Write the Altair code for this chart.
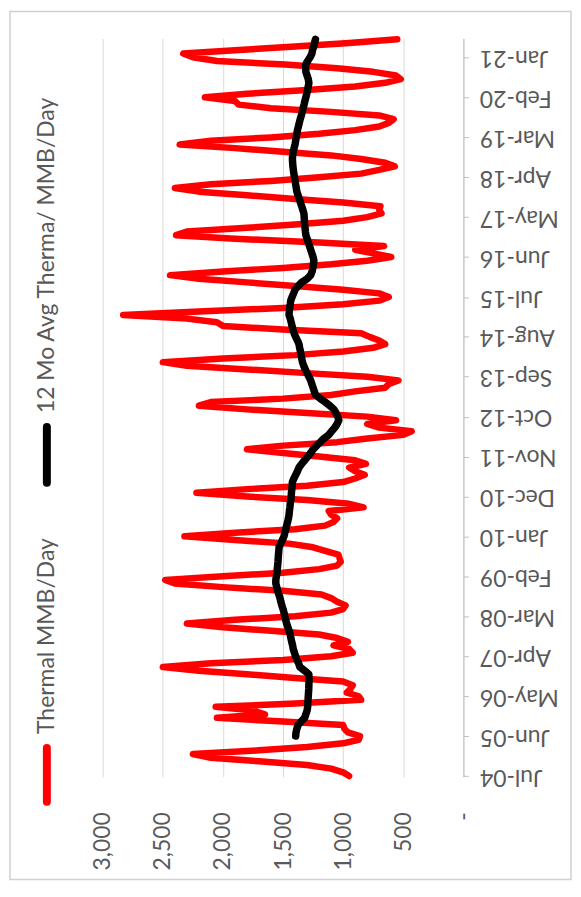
import altair as alt
import pandas as pd

# Monthly values (Jul-04 .. Jun-21)
thermal = [
    950, 1000, 1100, 1300, 1700, 2100, 2250, 1700, 1300, 1000,
    870, 860, 960, 990, 1000, 1500, 2050, 1650, 1750, 2060,
    1400, 850, 870, 970, 940, 920, 1000, 1400, 1800, 2200,
    2500, 2100, 1500, 1100, 920, 950, 1080, 960, 1050, 1200,
    1600, 2000, 2300, 1900, 1400, 1100, 1000, 980, 1050, 1100,
    1180, 1500, 2000, 2400, 2480, 2000, 1500, 1200, 1050, 1020,
    1030, 1040, 1150, 1250, 1450, 1900, 2320, 1900, 1400, 1150,
    1080, 1050, 1100, 1120, 830, 950, 1300, 1800, 2220, 1800,
    1300, 1000, 900, 820, 900, 950, 810, 900, 1200, 1500,
    1800, 1500, 1050, 800, 500, 430, 700, 800, 560, 800,
    1300, 1800, 2200, 2100, 1500, 1100, 900, 650, 620, 540,
    800, 1300, 1800, 2300, 2500, 2000, 1400, 1000, 750, 650,
    700, 780, 850, 1500, 2000, 2050, 2300, 2830, 2200, 1500,
    1000, 700, 620, 700, 1000, 1400, 1800, 2200, 2440, 2000,
    1500, 1100, 800, 600, 750, 900, 660, 1200, 1900, 2390,
    2300, 1800, 1400, 1000, 800, 680, 700, 690, 1000, 1400,
    1800, 2200, 2400, 2100, 1600, 1200, 850, 700, 570, 650,
    850, 1100, 1500, 1900, 2360, 2100, 1600, 1200, 900, 700,
    620, 580, 700, 1100, 1600, 1870, 1900, 2150, 1800, 1300,
    900, 650, 520, 560, 750, 1050, 1480, 2050, 2250, 2330,
    1900, 1400, 950, 550,
]

# 12-month average, starting Jun-05
avg12 = [
    1395, 1392, 1385, 1375, 1350, 1320, 1310, 1300, 1295, 1295,
    1292, 1290, 1288, 1286, 1285, 1284, 1284, 1285, 1320, 1360,
    1370, 1385, 1395, 1405, 1415, 1420, 1428, 1435, 1440, 1450,
    1460, 1470, 1478, 1485, 1492, 1500, 1510, 1518, 1525, 1535,
    1545, 1552, 1560, 1560, 1555, 1550, 1548, 1545, 1542, 1540,
    1538, 1535, 1533, 1520, 1505, 1492, 1485, 1478, 1470, 1462,
    1455, 1450, 1447, 1443, 1440, 1436, 1432, 1430, 1427, 1424,
    1422, 1410, 1395, 1380, 1367, 1345, 1320, 1295, 1270, 1250,
    1220, 1190, 1160, 1120, 1095, 1070, 1050, 1036, 1045, 1060,
    1077, 1110, 1150, 1190, 1229, 1240, 1250, 1260, 1270, 1285,
    1300, 1315, 1328, 1338, 1345, 1350, 1355, 1362, 1367, 1380,
    1395, 1408, 1418, 1425, 1432, 1440, 1450, 1448, 1445, 1440,
    1436, 1425, 1412, 1400, 1375, 1345, 1300, 1270, 1258, 1252,
    1248, 1243, 1250, 1260, 1270, 1280, 1290, 1300, 1310, 1314,
    1317, 1320, 1322, 1324, 1326, 1335, 1345, 1355, 1365, 1375,
    1385, 1390, 1395, 1400, 1405, 1410, 1414, 1418, 1420, 1422,
    1420, 1415, 1408, 1400, 1395, 1390, 1385, 1380, 1372, 1365,
    1357, 1348, 1340, 1333, 1325, 1318, 1310, 1303, 1296, 1290,
    1285, 1290, 1300, 1310, 1312, 1312, 1295, 1275, 1260, 1255,
    1245, 1238, 1230,
]

tick_labels = ["Jul-04", "Jun-05", "May-06", "Apr-07", "Mar-08", "Feb-09", "Jan-10",
               "Dec-10", "Nov-11", "Oct-12", "Sep-13", "Aug-14", "Jul-15", "Jun-16",
               "May-17", "Apr-18", "Mar-19", "Feb-20", "Jan-21"]
value_ticks = [0, 500, 1000, 1500, 2000, 2500, 3000]
series_names = ["Thermal MMB/Day", "12 Mo Avg Therma/ MMB/Day"]
series_colors = ["#FF0000", "#000000"]

months = pd.date_range("2004-07-01", periods=len(thermal), freq="MS")
df_red = pd.DataFrame({"date": months.strftime("%Y-%m-%d"), "idx": range(len(thermal)), "v": thermal})
off = len(thermal) - len(avg12)
df_blk = pd.DataFrame({"date": months[off:].strftime("%Y-%m-%d"), "idx": range(off, len(thermal)), "v": avg12})

def dt(ts):
    return alt.DateTime(year=ts.year, month=ts.month, date=ts.day, utc=True)

tick_dates = [dt(pd.to_datetime(s, format="%b-%y")) for s in tick_labels]

FONT = "Lato"
TXT = "#595959"
GRID = "#d9d9d9"

xscale = alt.Scale(domain=[0, 3000], reverse=True, nice=False)
yscale = alt.Scale(type="utc", domain=[dt(pd.Timestamp("2004-06-24")), dt(pd.Timestamp("2021-06-08"))])

xaxis = alt.Axis(values=value_ticks, title=None, domain=False, ticks=False, grid=True,
                 gridColor=GRID, gridWidth=1,
                 labelExpr="datum.value == 0 ? '-\u00a0\u00a0\u00a0' : format(datum.value, ',')",
                 labelAngle=270, labelAlign="right", labelBaseline="middle", labelPadding=35,
                 labelFont=FONT, labelFontSize=23, labelColor=TXT, labelOverlap=False, labelFlush=False)
yaxis = alt.Axis(orient="right", values=tick_dates, format="%b-%y", title=None, grid=False,
                 domainColor="#bfbfbf", domainWidth=1, tickColor="#bfbfbf", tickSize=5,
                 labelAngle=180, labelAlign="right", labelBaseline="middle", labelPadding=11,
                 labelFont=FONT, labelFontSize=23, labelColor=TXT, labelOverlap=False, labelFlush=False)

red = alt.Chart(df_red).mark_line(color=series_colors[0], strokeWidth=6.5, strokeCap="round",
                                  strokeJoin="round").encode(
    x=alt.X("v:Q", scale=xscale, axis=xaxis),
    y=alt.Y("date:T", scale=yscale, axis=yaxis),
    order="idx:Q",
)
blk = alt.Chart(df_blk).mark_line(color=series_colors[1], strokeWidth=7.5, strokeCap="round",
                                  strokeJoin="round").encode(
    x=alt.X("v:Q", scale=xscale),
    y=alt.Y("date:T", scale=yscale),
    order="idx:Q",
)

one = alt.Data(values=[{"a": 1}])
frame = alt.Chart(one).mark_rect(fill="white", fillOpacity=0, stroke="#d0d0d0", strokeWidth=1.5).encode(
    x=alt.value(-93), x2=alt.value(470), y=alt.value(-27), y2=alt.value(844))
leg_red_sym = alt.Chart(one).mark_rule(color=series_colors[0], strokeWidth=8, strokeCap="round").encode(
    x=alt.value(-56), y=alt.value(712), y2=alt.value(766))
leg_red_txt = alt.Chart(one).mark_text(angle=270, align="left", baseline="middle", font=FONT,
                                       fontSize=23, color=TXT).encode(
    x=alt.value(-56), y=alt.value(698), text=alt.value(series_names[0]))
leg_blk_sym = alt.Chart(one).mark_rule(color=series_colors[1], strokeWidth=8, strokeCap="round").encode(
    x=alt.value(-56), y=alt.value(390), y2=alt.value(446))
leg_blk_txt = alt.Chart(one).mark_text(angle=270, align="left", baseline="middle", font=FONT,
                                       fontSize=23, color=TXT).encode(
    x=alt.value(-56), y=alt.value(376), text=alt.value(series_names[1]))

chart = alt.layer(frame, red, blk, leg_red_sym, leg_red_txt, leg_blk_sym, leg_blk_txt).properties(
    width=362, height=741,
    autosize=alt.AutoSizeParams(type="none"),
    padding={"left": 95, "top": 29, "right": 110, "bottom": 105},
    background="white",
).configure_view(stroke=None)

chart.save("out.html", embed_options={"renderer": "svg", "actions": False})
